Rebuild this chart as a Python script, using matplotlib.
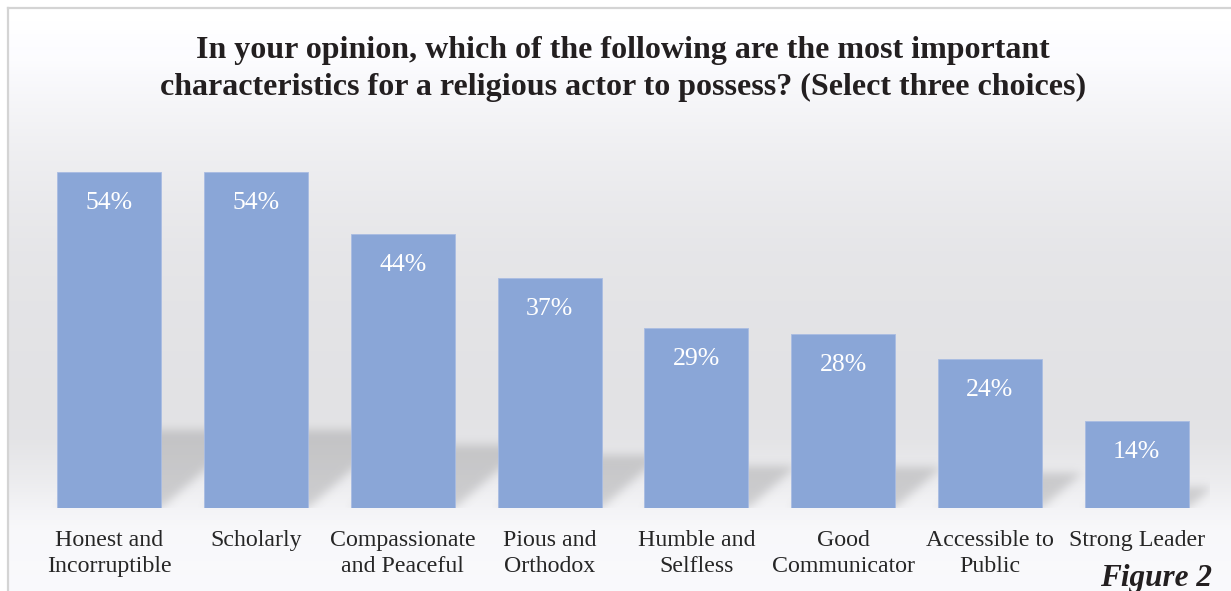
import numpy as np
import matplotlib
matplotlib.use("Agg")
import matplotlib.pyplot as plt
from matplotlib.lines import Line2D

# survey results
categories = ["Honest and\nIncorruptible", "Scholarly", "Compassionate\nand Peaceful",
              "Pious and\nOrthodox", "Humble and\nSelfless", "Good\nCommunicator",
              "Accessible to\nPublic", "Strong Leader"]
values = [54, 54, 44, 37, 29, 28, 24, 14]
title = ("In your opinion, which of the following are the most important\n"
         "characteristics for a religious actor to possess? (Select three choices)")
figure_label = "Figure 2"

W, H = 1231, 591
BAR = "#8aa6d7"
serif = ["Liberation Serif", "DejaVu Serif"]

fig = plt.figure(figsize=(W / 100, H / 100), dpi=100)

# background: soft vertical gray gradient inside a thin frame
rows = np.arange(H)
stops_y = [0, 20, 60, 100, 150, 200, 250, 300, 400, 440, 480, 510, 530, 591]
stops_g = [255, 255, 252, 246, 239, 234, 230, 228, 226, 228, 236, 244, 248, 250]
g = np.interp(rows, stops_y, stops_g) / 255.0
bg_img = np.repeat(g[:, None], W, axis=1)
bg_img = np.dstack([bg_img, bg_img, np.clip(bg_img + 0.01, 0, 1)])
bg_img[:7, :, :] = 1.0
bg_img[:, :7, :] = 1.0
bg = fig.add_axes([0, 0, 1, 1])
bg.imshow(bg_img, extent=[0, 1, 0, 1], aspect="auto", interpolation="bilinear")
bg.set_xlim(0, 1)
bg.set_ylim(0, 1)
bg.axis("off")
fig.add_artist(Line2D([7.5 / W, 7.5 / W], [0, 1 - 7.5 / H], transform=fig.transFigure,
                      color="#d4d4d4", lw=1.6))
fig.add_artist(Line2D([7.5 / W, 1], [1 - 7.5 / H, 1 - 7.5 / H], transform=fig.transFigure,
                      color="#d4d4d4", lw=1.6))

ax_l, ax_b, ax_w, ax_h = 36 / W, 83 / H, 1174 / W, 373.3 / H
ax = fig.add_axes([ax_l, ax_b, ax_w, ax_h])
ax.patch.set_alpha(0)
ymax = 60
ax.set_xlim(-0.5, len(values) - 0.5)
ax.set_ylim(0, ymax)
width = 0.707

# blurred perspective shadows cast up and to the right of each bar
pw, ph = int(round(ax_w * W)), int(round(ax_h * H))
px_x = pw / len(values)
px_y = ph / ymax
mask = np.zeros((ph, pw))
yy, xx = np.mgrid[0:ph, 0:pw]
for i, v in enumerate(values):
    h_px = v * px_y
    dy = 0.23 * h_px
    dx = 1.15 * dy
    x0 = (i + 0.5 - width / 2) * px_x
    x1 = (i + 0.5 + width / 2) * px_x
    shift = dx * yy / dy
    m = (yy <= dy) & (xx >= x0 + shift) & (xx <= x1 + shift)
    mask = np.maximum(mask, m.astype(float))
sigma = 4.5
k = np.arange(-14, 15)
kern = np.exp(-k ** 2 / (2 * sigma ** 2))
kern /= kern.sum()
mask = np.apply_along_axis(lambda r: np.convolve(r, kern, mode="same"), 1, mask)
mask = np.apply_along_axis(lambda c: np.convolve(c, kern, mode="same"), 0, mask)
shadow = np.zeros((ph, pw, 4))
shadow[..., :3] = 0.45
shadow[..., 3] = mask * 0.28
ax.imshow(shadow, extent=(-0.5, len(values) - 0.5, 0, ymax), origin="lower",
          aspect="auto", zorder=1, interpolation="bilinear")

x = np.arange(len(values))
ax.bar(x, values, width=width, color=BAR, edgecolor="#a9bce2", linewidth=0.6, zorder=3)
for xi, v in zip(x, values):
    ax.text(xi, v - 5.0, f"{v}%", ha="center", va="center", color="white",
            fontsize=18.5, family=serif, zorder=4)

for s in ax.spines.values():
    s.set_visible(False)
ax.set_yticks([])
ax.set_xticks(x)
ax.set_xticklabels(categories, family=serif, fontsize=17.2, color="#262626",
                   linespacing=1.33)
ax.tick_params(axis="x", length=0, pad=15.5)

fig.text(623 / W, 1 - 69 / H, title, ha="center", va="center", fontsize=23,
         fontweight="bold", family=serif, color="#231f20", linespacing=1.4)
fig.text(1212 / W, 1 - 586 / H, figure_label, ha="right", va="baseline", fontsize=22.5,
         fontweight="bold", style="italic", family=serif, color="#231f20")

fig.savefig("out.png", dpi=100)
